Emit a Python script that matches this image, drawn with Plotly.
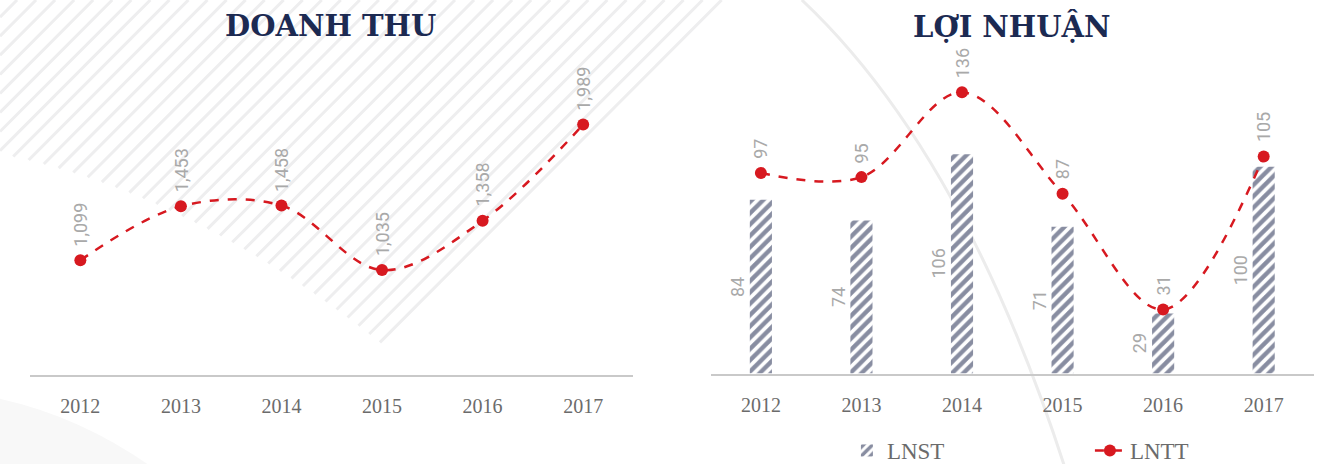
import math
import plotly.graph_objects as go

# ---------------- data ----------------
years = ["2012", "2013", "2014", "2015", "2016", "2017"]
doanh_thu = [1099, 1453, 1458, 1035, 1358, 1989]
lnst = [84, 74, 106, 71, 29, 100]
lntt = [97, 95, 136, 87, 31, 105]

# ---------------- style ----------------
TW, TH = 1326, 464        # target picture size (layout positions are fractions of it)
FW, FH = 1333, 472        # figure size (the captured page is scaled to the target)
NAVY = "#1c2a52"
BAR_NAVY = "#111c44"
RED = "#d71920"
TICK = "#6b6b6b"
LBL = "#a9a9a9"
AXIS = "#c9c9c9"
TITLE_FONT = "DejaVu Serif, serif"
TICK_FONT = "Liberation Serif, serif"
SANS = "Roboto, Lato, sans-serif"


def px(x):
    return x / TW


def py(y):
    return 1 - y / TH


idx = list(range(len(years)))

fig = go.Figure()

# left: revenue line
fig.add_trace(go.Scatter(
    x=years, y=doanh_thu, mode="lines+markers", name="Doanh thu",
    line=dict(color=RED, width=2.5, dash="dash", shape="spline", smoothing=1),
    marker=dict(color=RED, size=12), showlegend=False,
    xaxis="x", yaxis="y"))

# right: bars + line
fig.add_trace(go.Bar(
    x=years, y=lnst, name="LNST", width=0.22,
    marker=dict(color="white", line=dict(width=0),
                pattern=dict(shape="/", fgcolor=BAR_NAVY, bgcolor="white",
                             size=8, solidity=0.55)),
    xaxis="x2", yaxis="y2"))
fig.add_trace(go.Scatter(
    x=years, y=lntt, mode="lines+markers", name="LNTT",
    line=dict(color=RED, width=2.5, dash="dash", shape="spline", smoothing=1),
    marker=dict(color=RED, size=12),
    xaxis="x2", yaxis="y2"))

annotations = []
# value labels above line points (category index used as x position)
for xa, ya, vals in (("x", "y", doanh_thu), ("x2", "y2", lntt)):
    for i, v in zip(idx, vals):
        annotations.append(dict(
            x=i, y=v, xref=xa, yref=ya, text=f"{v:,}", showarrow=False,
            textangle=-90, xanchor="center", yanchor="bottom", yshift=12,
            font=dict(family=SANS, size=18, color=LBL)))
# bar labels left of bars, at mid height
for i, v in zip(idx, lnst):
    annotations.append(dict(
        x=i, y=v / 2, xref="x2", yref="y2", text=f"{v}", showarrow=False,
        textangle=-90, xanchor="right", yanchor="middle", xshift=-11,
        font=dict(family=SANS, size=18, color=LBL)))

# titles
for xc, t in ((330, "DOANH THU"), (1010, "LỢI NHUẬN")):
    annotations.append(dict(
        x=px(xc), y=py(26), xref="paper", yref="paper", text=f"<b>{t}</b>",
        showarrow=False, xanchor="center", yanchor="middle",
        font=dict(family=TITLE_FONT, size=29, color=NAVY)))

# decorative background: diagonal stripes cut by a curved boundary
shapes = []
a, b, c0 = 0.00078, 1.2, 153.0
c = 720.0
while c > 0:
    if c >= c0:
        x0 = (-b + math.sqrt(b * b - 4 * a * (c0 - c))) / (2 * a)
        y0 = c - x0
    else:
        x0, y0 = 0.0, c
    shapes.append(dict(type="line", xref="paper", yref="paper",
                       x0=px(x0), y0=py(y0), x1=px(c), y1=py(0),
                       line=dict(color="#eeeeef", width=3), layer="below"))
    c -= 19
shapes.append(dict(type="path", xref="paper", yref="paper",
                   path=f"M {px(800)},{py(0)} Q {px(960)},{py(150)} {px(1062)},{py(464)}",
                   line=dict(color="#ececec", width=3), layer="below"))
shapes.append(dict(type="path", xref="paper", yref="paper",
                   path=f"M 0,{py(397)} Q {px(80)},{py(415)} {px(150)},{py(464)} L 0,{py(464)} Z",
                   fillcolor="#f8f8f8", line=dict(width=0), layer="below"))

xcommon = dict(type="category", range=[-0.5, 5.5], showgrid=False, zeroline=False,
               showline=True, linecolor=AXIS, linewidth=2, ticks="",
               ticklabelstandoff=12,
               tickfont=dict(family=TICK_FONT, size=20, color=TICK), fixedrange=True)
ycommon = dict(showgrid=False, zeroline=False, showline=False, showticklabels=False,
               fixedrange=True)

fig.update_layout(
    width=FW, height=FH,
    margin=dict(l=0, r=0, t=0, b=0),
    paper_bgcolor="white", plot_bgcolor="rgba(0,0,0,0)",
    xaxis=dict(domain=[px(30), px(632)], anchor="y", **xcommon),
    yaxis=dict(domain=[py(373), py(60)], range=[350, 2410], anchor="x", **ycommon),
    xaxis2=dict(domain=[px(709), px(1311)], anchor="y2", **xcommon),
    yaxis2=dict(domain=[py(372), py(60)], range=[0, 151.5], anchor="x2", **ycommon),
    legend=dict(orientation="h", x=px(845), y=py(449), xanchor="left", yanchor="middle",
                entrywidth=198, entrywidthmode="pixels",
                font=dict(family=TICK_FONT, size=23, color=TICK),
                bgcolor="rgba(0,0,0,0)"),
    annotations=annotations, shapes=shapes,
)

fig.write_html(
    "out.html",
    config={"displayModeBar": False},
    post_script=(
        "document.documentElement.style.overflow='hidden';"
        "document.body.style.margin='0';"
        "document.body.style.overflow='hidden';"
    ),
)
